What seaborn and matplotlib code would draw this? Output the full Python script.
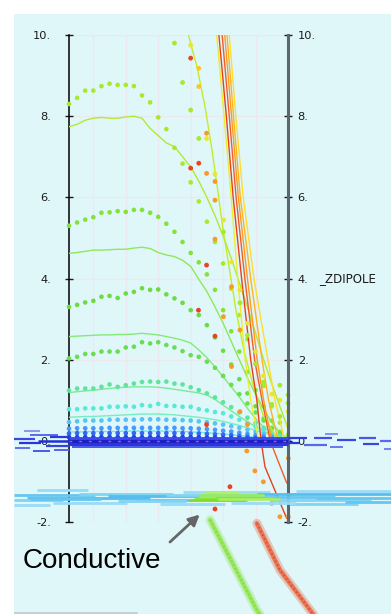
import matplotlib
matplotlib.use("Agg")
import matplotlib.pyplot as plt
from matplotlib.patches import Rectangle
import pandas as pd
import seaborn as sns

# ------------------------------------------------------------------ data
x_grid = [0.0, 0.25, 0.5, 0.75, 1.0, 1.25, 1.5, 1.75, 2.0, 2.25, 2.5, 2.75, 3.0, 3.25,
          3.5, 3.75, 4.0, 4.25, 4.5, 4.75, 5.0, 5.25, 5.5, 5.75, 6.0, 6.25, 6.5, 6.75]

dot_D1 = [8.30, 8.45, 8.63, 8.63, 8.74, 8.80, 8.77, 8.77, 8.74, 8.51, 8.34, 7.97, 7.68, 7.22,
          6.83, 6.37, 5.90, 5.40, 4.90, 4.37, 3.75, 3.10, 2.50, 1.90, 1.35, 0.85, 0.45, 0.15]
dot_D2 = [5.30, 5.38, 5.45, 5.51, 5.62, 5.63, 5.66, 5.64, 5.69, 5.69, 5.62, 5.52, 5.35, 5.15,
          4.90, 4.63, 4.40, 4.10, 3.72, 3.22, 2.70, 2.20, 1.70, 1.25, 0.85, 0.50, 0.22, 0.07]
dot_D3 = [3.30, 3.35, 3.41, 3.45, 3.55, 3.57, 3.52, 3.63, 3.67, 3.76, 3.72, 3.73, 3.61, 3.51,
          3.40, 3.22, 3.10, 2.85, 2.55, 2.22, 1.88, 1.52, 1.17, 0.85, 0.55, 0.30, 0.12, 0.04]
dot_D4 = [2.03, 2.07, 2.14, 2.14, 2.20, 2.20, 2.20, 2.30, 2.32, 2.43, 2.40, 2.43, 2.36, 2.30,
          2.21, 2.11, 2.07, 1.95, 1.80, 1.60, 1.38, 1.15, 0.92, 0.70, 0.50, 0.32, 0.18, 0.06]
dot_D5 = [1.24, 1.29, 1.29, 1.29, 1.33, 1.39, 1.33, 1.37, 1.41, 1.45, 1.46, 1.45, 1.46, 1.41,
          1.39, 1.32, 1.25, 1.17, 1.07, 0.95, 0.83, 0.70, 0.57, 0.44, 0.32, 0.20, 0.10, 0.04]
dot_D6 = [0.78, 0.78, 0.80, 0.80, 0.80, 0.84, 0.84, 0.85, 0.84, 0.88, 0.86, 0.91, 0.86, 0.86,
          0.84, 0.84, 0.78, 0.75, 0.71, 0.68, 0.60, 0.52, 0.44, 0.35, 0.27, 0.20, 0.12, 0.06]
dot_D7 = [0.46, 0.48, 0.50, 0.50, 0.50, 0.52, 0.52, 0.52, 0.52, 0.53, 0.53, 0.53, 0.52, 0.52,
          0.51, 0.50, 0.48, 0.46, 0.43, 0.40, 0.36, 0.32, 0.27, 0.22, 0.17, 0.12, 0.07, 0.03]
dot_D8 = [0.30, 0.31, 0.31, 0.31, 0.31, 0.32, 0.32, 0.32, 0.32, 0.32, 0.32, 0.32, 0.32, 0.32,
          0.31, 0.31, 0.30, 0.29, 0.27, 0.25, 0.23, 0.20, 0.17, 0.14, 0.11, 0.08, 0.05, 0.02]
dot_D9 = [0.18, 0.19, 0.19, 0.19, 0.19, 0.19, 0.19, 0.19, 0.19, 0.19, 0.19, 0.19, 0.19, 0.19,
          0.19, 0.18, 0.18, 0.17, 0.16, 0.15, 0.14, 0.12, 0.10, 0.08, 0.06, 0.05, 0.03, 0.01]
dot_D10 = [0.09, 0.09, 0.09, 0.09, 0.09, 0.09, 0.09, 0.09, 0.09, 0.09, 0.09, 0.09, 0.09, 0.09,
           0.09, 0.09, 0.09, 0.08, 0.08, 0.07, 0.07, 0.06, 0.05, 0.04, 0.03, 0.02, 0.01, 0.0]

line_L1 = [7.74, 7.80, 7.90, 7.95, 7.97, 7.95, 7.95, 7.98, 8.00, 7.95, 7.70, 7.52, 7.34, 7.25,
           7.00, 6.75, 6.40, 6.00, 5.55, 5.05, 4.50, 3.90, 3.30, 2.65, 2.00, 1.40, 0.85, 0.30]
line_L2 = [4.62, 4.64, 4.67, 4.70, 4.70, 4.71, 4.72, 4.72, 4.75, 4.77, 4.74, 4.64, 4.58, 4.54,
           4.45, 4.30, 3.98, 3.68, 3.30, 2.90, 2.45, 2.00, 1.55, 1.15, 0.78, 0.45, 0.20, 0.05]
line_L3 = [2.57, 2.58, 2.59, 2.60, 2.61, 2.61, 2.62, 2.62, 2.63, 2.65, 2.63, 2.61, 2.57, 2.53,
           2.48, 2.41, 2.24, 2.05, 1.82, 1.58, 1.33, 1.08, 0.80, 0.55, 0.34, 0.18, 0.07, 0.02]
line_L4 = [1.19, 1.21, 1.23, 1.25, 1.27, 1.29, 1.31, 1.32, 1.33, 1.33, 1.33, 1.32, 1.30, 1.27,
           1.24, 1.21, 1.18, 1.13, 1.02, 0.88, 0.74, 0.60, 0.47, 0.35, 0.24, 0.15, 0.08, 0.03]
line_L5 = [0.58, 0.59, 0.60, 0.60, 0.61, 0.62, 0.63, 0.64, 0.65, 0.66, 0.66, 0.66, 0.65, 0.64,
           0.62, 0.60, 0.58, 0.55, 0.52, 0.48, 0.43, 0.38, 0.32, 0.26, 0.20, 0.14, 0.08, 0.03]
line_L6 = [0.22, 0.22, 0.22, 0.23, 0.23, 0.23, 0.23, 0.24, 0.24, 0.24, 0.24, 0.24, 0.24, 0.23,
           0.23, 0.22, 0.21, 0.20, 0.19, 0.17, 0.15, 0.13, 0.11, 0.09, 0.07, 0.05, 0.03, 0.01]

# steep curves entering from above the top of the frame
steep_x = {
    "L0": [3.68, 3.95, 4.20, 4.40, 4.58, 4.75, 4.95, 5.15, 5.40, 5.70, 6.00, 6.35, 6.75],
    "B1": [4.55, 4.78, 5.00, 5.20, 5.43, 5.60, 5.85],
    "B2": [4.62, 4.85, 5.06, 5.32, 5.60, 5.79, 5.92, 6.04, 6.71],
    "B3": [4.72, 4.94, 5.15, 5.42, 5.72, 5.95, 6.20, 6.71],
    "B4": [4.80, 5.01, 5.22, 5.50, 5.80, 6.00, 6.25],
    "B5": [4.87, 5.07, 5.28, 5.60, 5.95, 6.15, 6.45],
    "B6": [4.94, 5.14, 5.37, 5.70, 6.13, 6.35, 6.65],
}
steep_y = {
    "L0": [10, 9.2, 8.2, 7.2, 6.2, 5.2, 4.2, 3.2, 2.2, 1.3, 0.6, 0.15, 0.0],
    "B1": [10, 8, 6, 4, 2, 1, 0],
    "B2": [10, 8, 6, 4, 2, 1, 0, -0.64, -1.91],
    "B3": [10, 8, 6, 4, 2, 1, 0, -1.04],
    "B4": [10, 8, 6, 4, 2, 1, 0],
    "B5": [10, 8, 6, 4, 2, 1, 0],
    "B6": [10, 8, 6, 4, 2, 1, 0],
}

# scattered "hot" points
hot_x = [3.25, 3.50, 3.75, 4.00, 4.76, 5.27, 5.50, 5.75, 6.00, 6.50, 6.75, 6.75, 6.25, 6.50,
         3.75, 4.24, 4.50, 4.76, 5.01, 5.27, 5.50, 5.75, 6.00, 6.25, 6.50, 6.75, 6.75,
         4.00, 4.00,
         4.24, 4.24, 4.50, 4.50, 4.50, 5.01, 4.76, 5.27, 5.01, 5.27, 5.48, 5.73, 5.99, 6.25,
         6.50, 6.76, 6.76, 5.50,
         3.75, 3.75, 4.00, 4.24, 3.99, 4.50, 4.24, 4.96, 4.50]
hot_y = [9.80, 8.83, 8.15, 7.45, 5.15, 3.40, 2.60, 1.90, 1.45, 1.37, 1.13, 0.93, 0.90, 0.60,
         9.75, 7.45, 6.57, 5.44, 4.41, 3.72, 2.90, 2.20, 1.60, 1.15, 1.00, 0.72, 0.39,
         9.18, 8.73,
         7.58, 6.59, 6.39, 5.93, 4.97, 3.80, 3.06, 2.73, 1.83, 0.72, -0.25, -0.74, -1.01, -1.54,
         -1.87, -1.87, -0.43, 0.40,
         9.43, 6.72, 6.84, 4.33, 3.22, 2.58, 0.40, -1.13, -1.68]
hot_cat = (["yg"] * 14 + ["yel"] * 13 + ["yor"] * 2 + ["ora"] * 18 + ["red"] * 9)

# horizontal dash bands (x0, x1, y)
blue_x0 = [-1.70, -1.55, -1.20, -0.95, -1.65, -0.70, -0.60, -1.40, -0.45, -1.10,
           0.00, 0.00, 0.00, 0.10,
           6.75, 6.75, 7.25, 7.55, 8.25, 8.05, 8.95, 9.05, 9.60, 9.70, 7.90]
blue_x1 = [-1.05, -0.85, -0.35, 0.00, -1.20, 0.00, 0.00, -0.90, 0.00, -0.60,
           6.75, 6.75, 6.75, 6.60,
           7.35, 7.10, 7.95, 8.10, 8.85, 8.45, 9.45, 9.55, 9.93, 9.93, 8.30]
blue_y = [0.05, -0.06, 0.14, 0.00, -0.18, -0.12, 0.10, 0.24, -0.22, -0.25,
          0.00, -0.09, 0.08, -0.16,
          0.06, -0.05, -0.10, 0.08, 0.02, -0.16, 0.08, -0.08, 0.00, -0.20, 0.18]
blue_c = ["#3a46e6", "#2a36d8", "#5a68ee", "#2030d4", "#6270f0", "#3442e0", "#2838da", "#7888f2",
          "#5866ec", "#4a58ea",
          "#1c20c4", "#2a36dc", "#3a4ae6", "#4a5aea",
          "#3040e0", "#2a36d8", "#5a68ee", "#4050e8", "#3a48e2", "#6a78f0", "#4a58ea", "#3a48e2",
          "#5a68ee", "#7080f0", "#7080f0"]
blue_w = [1.6, 1.6, 1.4, 1.8, 1.4, 1.6, 1.6, 1.2, 1.4, 1.4,
          3.4, 2.2, 2.0, 1.4,
          1.6, 1.6, 1.6, 1.6, 1.6, 1.4, 1.6, 1.6, 1.6, 1.4, 1.2]

lblue_x0 = [-1.70, -1.30, -1.70, 0.30, -0.50, 2.00, 1.20, 3.50, 4.50, 5.80, 6.20, 7.00, 6.80,
            8.50, 2.80, -1.00, -1.70, 5.00, -1.20, 1.50, 7.60, 3.00]
lblue_x1 = [0.80, 2.50, -0.20, 3.20, 1.80, 5.50, 4.00, 6.20, 8.20, 9.93, 9.30, 9.93, 8.90,
            9.93, 4.80, 0.60, -0.60, 7.00, 1.00, 3.60, 9.93, 6.00]
lblue_y = [-1.33, -1.40, -1.47, -1.30, -1.53, -1.45, -1.36, -1.25, -1.38, -1.32, -1.45, -1.24,
           -1.55, -1.50, -1.56, -1.22, -1.58, -1.52, -1.43, -1.49, -1.40, -1.34]
lblue_c = ["#66c6f0", "#58bcee", "#80d4f4", "#80d4f4", "#9adcf6", "#66c6f0", "#58bcee",
           "#9adcf6", "#66c6f0", "#58bcee", "#80d4f4", "#9adcf6", "#80d4f4", "#66c6f0",
           "#9adcf6", "#9adcf6", "#9adcf6", "#9adcf6", "#66c6f0", "#80d4f4", "#66c6f0",
           "#80d4f4"]

green_x0 = [3.85, 4.00, 3.70, 4.60, 4.20]
green_x1 = [6.30, 6.00, 5.40, 6.50, 5.20]
green_y = [-1.40, -1.34, -1.47, -1.44, -1.27]
green_c = ["#8ae832", "#9aee48", "#7ee02a", "#aaf060", "#b0f070"]

# the two diagonal streaks below the frame
streak_green_x = [4.35, 5.00, 5.79, 5.95]
streak_green_y = [-1.95, -2.95, -4.17, -4.35]
streak_red_x = [5.79, 6.50, 7.43, 7.60]
streak_red_y = [-2.03, -3.18, -4.17, -4.35]

ytick_vals = [-2, 0, 2, 4, 6, 8, 10]
ytick_labels = ["-2.", "0.", "2.", "4.", "6.", "8.", "10."]
grid_x = [0.75, 1.75, 2.75, 3.75, 4.75, 5.75]

# ------------------------------------------------------------------ styles
dot_colors = {"D1": "#a6ea28", "D2": "#84e238", "D3": "#6edc40", "D4": "#6ade52",
              "D5": "#60e49c", "D6": "#58e8d8", "D7": "#58c4f2", "D8": "#4898ff",
              "D9": "#3466f2", "D10": "#2440e0"}
line_colors = {"L1": "#b2ea30", "L2": "#8ee85a", "L3": "#84ea76", "L4": "#78ea98",
               "L5": "#74eec2", "L6": "#6ee4ea"}
steep_colors = {"L0": "#c2ec2a", "B1": "#eaee30", "B2": "#e8401c", "B3": "#ee5e2a",
                "B4": "#ff9a1c", "B5": "#ffb224", "B6": "#ffdc30"}
hot_colors = {"yg": "#a8e830", "yel": "#eae630", "yor": "#ffc428", "ora": "#f89a28",
              "red": "#e84424"}

BG = "#e0f7f9"
GRID = "#ece8f0"

W, H = 391, 614
AX_L, AX_R, AX_T, AX_B = 69, 288, 35, 522
X_MIN, X_MAX, Y_MIN, Y_MAX = 0.0, 6.75, -2.0, 10.0

sns.set_theme(style="white")
plt.rcParams["font.family"] = ["DejaVu Sans"]

fig = plt.figure(figsize=(W / 100, H / 100), dpi=100)
fig.patch.set_facecolor("white")
fig.add_artist(Rectangle((14 / W, 0), (W - 14) / W, (H - 14) / H, transform=fig.transFigure,
                         facecolor=BG, edgecolor="none", zorder=-5))
fig.add_artist(Rectangle((14 / W, 0), 124 / W, 2.5 / H, transform=fig.transFigure,
                         facecolor="#c6d0d4", edgecolor="none", zorder=-4))

ax = fig.add_axes([AX_L / W, 1 - AX_B / H, (AX_R - AX_L) / W, (AX_B - AX_T) / H])
ax.set_facecolor("none")
ax.set_xlim(X_MIN, X_MAX)
ax.set_ylim(Y_MIN, Y_MAX)

# grid
ax.set_xticks(grid_x)
ax.set_xticklabels([])
ax.tick_params(axis="x", bottom=False, top=False, length=0)
ax.set_yticks(ytick_vals)
ax.set_yticklabels(ytick_labels)
ax.grid(True, color=GRID, linewidth=1.0)
ax.set_axisbelow(True)

# ---- long tables
dots = pd.DataFrame({
    "x": x_grid * 10,
    "y": dot_D1 + dot_D2 + dot_D3 + dot_D4 + dot_D5 + dot_D6 + dot_D7 + dot_D8 + dot_D9 + dot_D10,
    "s": sum([[k] * len(x_grid) for k in ["D1", "D2", "D3", "D4", "D5", "D6", "D7", "D8", "D9", "D10"]], []),
})
lines = pd.DataFrame({
    "x": x_grid * 6,
    "y": line_L1 + line_L2 + line_L3 + line_L4 + line_L5 + line_L6,
    "s": sum([[k] * len(x_grid) for k in ["L1", "L2", "L3", "L4", "L5", "L6"]], []),
})
steep = pd.DataFrame({
    "x": sum([steep_x[k] for k in steep_x], []),
    "y": sum([steep_y[k] for k in steep_x], []),
    "s": sum([[k] * len(steep_x[k]) for k in steep_x], []),
})
hot = pd.DataFrame({"x": hot_x, "y": hot_y, "c": hot_cat})

# stems under the blue dot rows
ax.vlines(x_grid, 0, dot_D8, color="#3a6af0", linewidth=1.0, zorder=2)

sns.lineplot(data=lines, x="x", y="y", hue="s", palette=line_colors, estimator=None,
             sort=False, linewidth=1.0, legend=False, ax=ax, zorder=3)
sns.scatterplot(data=dots, x="x", y="y", hue="s", palette=dot_colors, s=11, linewidth=0,
                legend=False, ax=ax, zorder=4, clip_on=False)
sns.lineplot(data=steep, x="x", y="y", hue="s", palette=steep_colors, estimator=None,
             sort=False, linewidth=1.0, legend=False, ax=ax, zorder=5)
sns.scatterplot(data=hot, x="x", y="y", hue="c", palette=hot_colors, s=12, linewidth=0,
                legend=False, ax=ax, zorder=6, clip_on=False)
ax.set_xlabel("")
ax.set_ylabel("")

# spines / ticks
for side in ["top", "bottom", "right"]:
    ax.spines[side].set_visible(False)
ax.spines["left"].set_color("black")
ax.spines["left"].set_linewidth(1.1)
ax.tick_params(axis="y", left=True, right=False, direction="inout", length=6, width=1,
               colors="#1a1a1a", labelsize=8.2, pad=10)

ax2 = ax.twinx()
ax2.set_ylim(Y_MIN, Y_MAX)
ax2.set_yticks(ytick_vals)
ax2.set_yticklabels(ytick_labels)
for side in ["top", "bottom", "left"]:
    ax2.spines[side].set_visible(False)
ax2.spines["right"].set_color("#5d666e")
ax2.spines["right"].set_linewidth(2.2)
ax2.tick_params(axis="y", right=True, left=False, direction="inout", length=6, width=1,
                colors="#1a1a1a", labelsize=8.2, pad=4)
ax2.grid(False)
ax2.set_ylabel("")

# ---- overlay spanning the whole figure, same data units
sx = (AX_R - AX_L) / (X_MAX - X_MIN)
sy = (AX_B - AX_T) / (Y_MAX - Y_MIN)
ov = fig.add_axes([0, 0, 1, 1])
ov.set_xlim(X_MIN - AX_L / sx, X_MAX + (W - AX_R) / sx)
ov.set_ylim(Y_MIN - (H - AX_B) / sy, Y_MAX + AX_T / sy)
ov.axis("off")
ov.patch.set_alpha(0)
ov.set_zorder(5)

ov.hlines(lblue_y, lblue_x0, lblue_x1, colors=lblue_c, linewidth=2.0)
ov.hlines(green_y, green_x0, green_x1, colors=green_c, linewidth=1.8)
ov.hlines(blue_y, blue_x0, blue_x1, colors=blue_c, linewidths=blue_w)
ov.hlines([-0.01], [0.0], [6.75], colors="#d046d0", linewidth=1.0, linestyles=(0, (2, 5)))

for sxs, sys_, col in [(streak_green_x, streak_green_y, "#7ee02a"),
                       (streak_red_x, streak_red_y, "#e8461c")]:
    st = pd.DataFrame({"x": sxs, "y": sys_})
    sns.lineplot(data=st, x="x", y="y", color=col, linewidth=6.5, alpha=0.28, sort=False,
                 estimator=None, ax=ov)
    sns.lineplot(data=st, x="x", y="y", color=col, linewidth=3.2, alpha=0.6, sort=False,
                 estimator=None, ax=ov)
    sns.lineplot(data=st, x="x", y="y", color=col, linewidth=1.2, alpha=0.95, sort=False,
                 estimator=None, ax=ov, linestyle=(0, (1, 1.5)))
ov.set_xlabel("")
ov.set_ylabel("")

ov.annotate("", xy=(4.09, -1.77), xytext=(3.05, -2.54),
            arrowprops=dict(arrowstyle="-|>", color="#666666", lw=2.0, mutation_scale=16))
ov.text(-1.42, -3.13, "Conductive", fontsize=20, color="black", ha="left", va="baseline",
        family=["Liberation Sans", "DejaVu Sans"])
ov.text(7.71, 4.0, "_ZDIPOLE", fontsize=8.6, color="#1a1a1a", ha="left", va="center")

fig.savefig("out.png", dpi=100, facecolor="white")
